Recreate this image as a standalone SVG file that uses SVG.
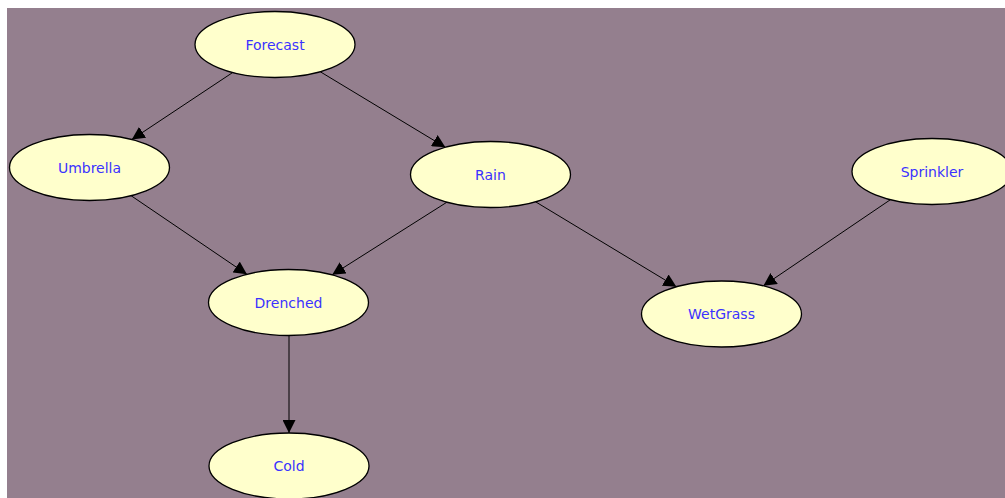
<svg xmlns="http://www.w3.org/2000/svg" width="1005" height="498" viewBox="0 0 1005 498">
<style>
.node ellipse{fill:#ffffcc;stroke:#000;stroke-width:1.3}
.node text{font-family:"DejaVu Sans",sans-serif;font-size:14px;fill:#3a32ff;text-anchor:middle}
.edge{stroke:#000;stroke-width:1;fill:none;marker-end:url(#arr)}
</style>
<defs>
<marker id="arr" viewBox="0 0 13 13" refX="13" refY="6.5" markerWidth="13" markerHeight="13" markerUnits="userSpaceOnUse" orient="auto">
<path d="M0,0 L13,6.5 L0,13 z" fill="#000"/>
</marker>
</defs>
<rect x="0" y="0" width="1005" height="498" fill="#fff"/>
<rect x="7" y="8" width="998" height="490" fill="#947f8e"/>
<g id="connectors">
<line class="edge" x1="232.7" y1="72.5" x2="131.8" y2="139.5"/>
<line class="edge" x1="320.2" y1="71.7" x2="445.4" y2="147.3"/>
<line class="edge" x1="131.1" y1="195.7" x2="246.9" y2="274.3"/>
<line class="edge" x1="446.9" y1="202.2" x2="332.2" y2="274.8"/>
<line class="edge" x1="535.6" y1="201.8" x2="676.4" y2="286.8"/>
<line class="edge" x1="890.4" y1="199.7" x2="763.4" y2="285.8"/>
<line class="edge" x1="289" y1="335.5" x2="289" y2="433"/>
</g>
<g id="Forecast" class="node"><ellipse cx="275" cy="44.5" rx="80" ry="33"/><text x="275" y="49.5">Forecast</text></g>
<g id="Umbrella" class="node"><ellipse cx="89.5" cy="167.5" rx="80" ry="33"/><text x="89.5" y="172.5">Umbrella</text></g>
<g id="Rain" class="node"><ellipse cx="490.5" cy="174.5" rx="80" ry="33"/><text x="490.5" y="179.5">Rain</text></g>
<g id="Sprinkler" class="node"><ellipse cx="932" cy="171.5" rx="80" ry="33"/><text x="932" y="176.5">Sprinkler</text></g>
<g id="Drenched" class="node"><ellipse cx="288.5" cy="302.5" rx="80" ry="33"/><text x="288.5" y="307.5">Drenched</text></g>
<g id="WetGrass" class="node"><ellipse cx="721.5" cy="314" rx="80" ry="33"/><text x="721.5" y="319">WetGrass</text></g>
<g id="Cold" class="node"><ellipse cx="289" cy="466" rx="80" ry="33"/><text x="289" y="471">Cold</text></g>
</svg>
